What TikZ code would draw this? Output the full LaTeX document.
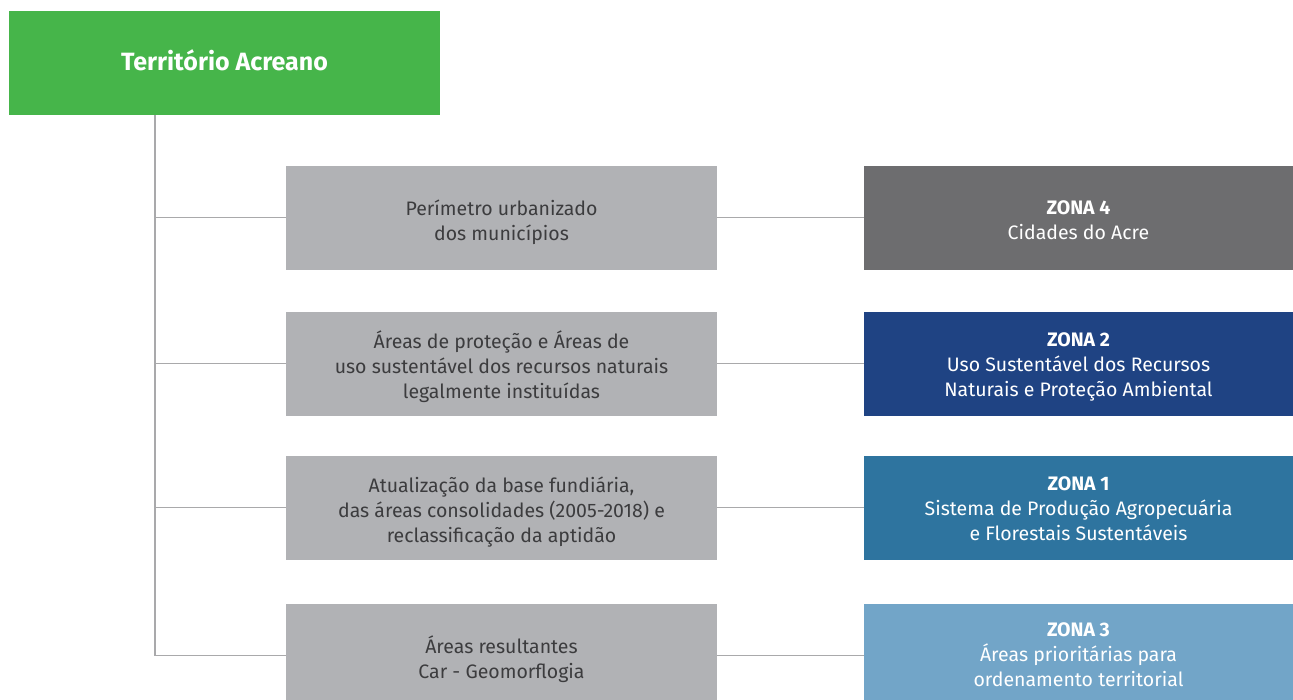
\documentclass[tikz,border=0pt]{standalone}
\usepackage{fontspec}
\setmainfont{Fira Sans}
\usepackage{xcolor}
\usepackage{tikz}
\usetikzlibrary{positioning}
\definecolor{acregreen}{HTML}{46B54A}
\definecolor{stepgray}{HTML}{B1B2B5}
\definecolor{linkgray}{HTML}{A9A9AB}
\definecolor{textgray}{HTML}{3C3C3E}
\definecolor{zonafour}{HTML}{6D6D6F}
\definecolor{zonatwo}{HTML}{1F4383}
\definecolor{zonaone}{HTML}{2E749F}
\definecolor{zonathree}{HTML}{72A5C8}

% struts that fix where the lines sit in a box
\newcommand{\upstrut}[1]{\rule{0pt}{#1}}
\newcommand{\downstrut}[1]{\rule[-#1]{0pt}{#1}}

\tikzset{
  stepbox/.style={fill=stepgray, text=textgray, minimum width=431pt, minimum height=104pt,
    inner sep=0pt, align=center, font=\fontsize{19.5}{25}\selectfont},
  zonebox/.style={fill=#1, text=white, minimum width=429pt, minimum height=104pt,
    inner sep=0pt, align=center, font=\fontsize{19.5}{25}\selectfont},
  link/.style={draw=linkgray, line width=1.3pt},
}

\begin{document}
\begin{tikzpicture}[x=1pt, y=-1pt]

    \useasboundingbox (0,0) rectangle (1293,699);

    % ── Root ──────────────────────────────────────────────────────────────────
    \fill[acregreen] (9,11) rectangle (440,115);
    \node[text=white, inner sep=0pt, font=\fontsize{25}{30}\selectfont\bfseries]
        (root) at (224.5,60) {Território Acreano};
    \coordinate (trunk) at (155,115);

    % ── Criteria (grey) ───────────────────────────────────────────────────────
    \node[stepbox] (crit4) at (501.5,217.5)
        {\upstrut{26pt}Perímetro urbanizado\\dos municípios\downstrut{6pt}};
    \node[stepbox] (crit2) at (501.5,363.5)
        {\upstrut{26pt}Áreas de proteção e Áreas de\\uso sustentável dos recursos naturais\\legalmente instituídas\downstrut{6pt}};
    \node[stepbox] (crit1) at (501.5,507.5)
        {\upstrut{26pt}Atualização da base fundiária,\\das áreas consolidades (2005-2018) e\\reclassificação da aptidão\downstrut{6pt}};
    \node[stepbox] (crit3) at (501.5,655.5)
        {\upstrut{26pt}Áreas resultantes\\Car - Geomorflogia\downstrut{6pt}};

    % ── Zones ─────────────────────────────────────────────────────────────────
    \node[zonebox=zonafour]  (zona4) at (1078.5,217.5)
        {\upstrut{25pt}\textbf{ZONA 4}\\Cidades do Acre\downstrut{7pt}};
    \node[zonebox=zonatwo]   (zona2) at (1078.5,363.5)
        {\upstrut{24pt}\textbf{ZONA 2}\\Uso Sustentável dos Recursos\\Naturais e Proteção Ambiental\downstrut{8pt}};
    \node[zonebox=zonaone]   (zona1) at (1078.5,507.5)
        {\upstrut{24pt}\textbf{ZONA 1}\\Sistema de Produção Agropecuária\\e Florestais Sustentáveis\downstrut{8pt}};
    \node[zonebox=zonathree] (zona3) at (1078.5,655.5)
        {\upstrut{24pt}\textbf{ZONA 3}\\Áreas prioritárias para\\ordenamento territorial\downstrut{12pt}};

    % ── Links ─────────────────────────────────────────────────────────────────
    \foreach \z in {4,2,1,3} {
      \draw[link] (trunk) |- (crit\z.west);
      \draw[link] (crit\z.east) -- (zona\z.west);
    }

\end{tikzpicture}
\end{document}
